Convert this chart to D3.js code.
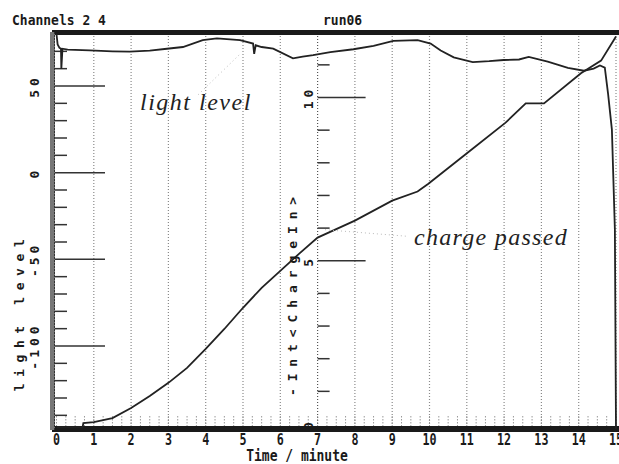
<!DOCTYPE html>
<html>
<head>
<meta charset="utf-8">
<script src="https://cdn.jsdelivr.net/npm/d3@7"></script>
<style>
body { margin: 0; background: #fff; }
.mono { font-family: "DejaVu Sans Mono", "Liberation Mono", monospace; font-weight: bold; fill: #1a1a1a; }
.note { font-family: "Liberation Serif", "Times New Roman", serif; font-style: italic; fill: #222; }
</style>
</head>
<body>
<svg width="619" height="464"></svg>
<script>
var svg = d3.select("svg"),
    width = +svg.attr("width"),
    height = +svg.attr("height");

// time axis (minutes)
var timeTicks = [0, 1, 2, 3, 4, 5, 6, 7, 8, 9, 10, 11, 12, 13, 14, 15];

// light level trace
var lightT = [0, 0.03, 0.08, 0.12, 0.13, 0.16, 0.3, 0.89, 1.5, 1.96, 2.5, 2.96, 3.39, 3.92, 4.3, 4.92, 5.27, 5.3, 5.34, 5.5, 5.81, 6.34, 6.6, 6.88, 7.34, 7.96, 8.5, 9.03, 9.68, 10.03, 10.3, 10.65, 11.16, 11.6, 11.99, 12.4, 12.66, 13.17, 13.71, 14.14, 14.4, 14.57, 14.7, 14.79, 14.89, 14.97, 15.0];
var lightV = [80, 74, 72, 71.5, 60, 71.5, 71, 70.5, 70, 69.8, 70.4, 71.5, 72.5, 76.5, 77.5, 76.5, 74.5, 68.5, 73.5, 72.5, 71.5, 66, 67, 67.8, 69.5, 71.2, 73.2, 76, 76.5, 74.5, 70.5, 66.5, 63.8, 64.3, 65, 65.3, 66.8, 64, 60.5, 58.8, 60, 61.8, 60.6, 45, 24.8, -32.9, -148];

// integrated charge trace
var chargeT = [0, 0.7, 0.72, 1, 1.5, 2, 2.5, 3, 3.5, 4, 4.5, 5, 5.5, 6, 6.5, 7, 8, 9, 9.68, 9.97, 11.02, 12.04, 12.58, 13.07, 14.06, 14.6, 15];
var chargeV = [-0.1, -0.1, 0.03, 0.06, 0.18, 0.49, 0.86, 1.26, 1.72, 2.30, 2.91, 3.56, 4.17, 4.69, 5.21, 5.71, 6.23, 6.84, 7.12, 7.36, 8.31, 9.23, 9.82, 9.82, 10.74, 11.13, 11.87];

var lightMajor = [50, 0, -50, -100];
var lightMinor = [70, 60, 40, 30, 20, 10, -10, -20, -30, -40, -60, -70, -80, -90, -110, -120, -130, -140];
var chargeMajor = [10, 5];
var chargeMinor = [11, 9, 8, 7, 6, 4, 3, 2, 1];
var chargeLabels = [10, 5, 0];

var x = d3.scaleLinear().domain([0, 15]).range([56.5, 616]);
var yL = d3.scaleLinear().domain([-100, 50]).range([346, 86]);
var yC = d3.scaleLinear().domain([0, 10]).range([424, 97.5]);

var plotTop = 33, plotBottom = 429, axisT = 7;

// vertical dotted grid
svg.append("g")
    .selectAll("line")
    .data(timeTicks.slice(1))
    .enter().append("line")
    .attr("x1", function(d) { return x(d); })
    .attr("x2", function(d) { return x(d); })
    .attr("y1", plotTop)
    .attr("y2", plotBottom)
    .attr("stroke", function(d) { return d == axisT ? "#555" : "#8a8a8a"; })
    .attr("stroke-width", 1.2)
    .attr("stroke-dasharray", "1,2");

// small time ticks along the bottom
svg.append("g")
    .selectAll("line")
    .data(d3.range(0, 15.01, 0.25))
    .enter().append("line")
    .attr("x1", function(d) { return x(d); })
    .attr("x2", function(d) { return x(d); })
    .attr("y1", 416)
    .attr("y2", 426)
    .attr("stroke", "#999")
    .attr("stroke-dasharray", "1.5,1.5");

// frame: thick top and bottom bars, stippled left axis
svg.append("rect").attr("x", 52).attr("y", 30).attr("width", width - 52).attr("height", 5).attr("fill", "#1a1a1a");
svg.append("rect").attr("x", 52).attr("y", 426).attr("width", width - 52).attr("height", 6).attr("fill", "#1a1a1a");
svg.append("rect").attr("x", 50).attr("y", 32).attr("width", 5).attr("height", 398).attr("fill", "#777");
svg.append("line").attr("x1", 54.5).attr("x2", 54.5).attr("y1", 32).attr("y2", 430)
    .attr("stroke", "#333").attr("stroke-width", 1).attr("stroke-dasharray", "2,1");

// left axis ticks
svg.append("g").selectAll("line").data(lightMinor).enter().append("line")
    .attr("x1", 55).attr("x2", 67)
    .attr("y1", function(d) { return yL(d); }).attr("y2", function(d) { return yL(d); })
    .attr("stroke", "#333").attr("stroke-width", 1.5);
svg.append("g").selectAll("line").data(lightMajor).enter().append("line")
    .attr("x1", 55).attr("x2", 105)
    .attr("y1", function(d) { return yL(d); }).attr("y2", function(d) { return yL(d); })
    .attr("stroke", "#333").attr("stroke-width", 1.5);

// charge axis ticks (drawn on the 7 minute line)
svg.append("g").selectAll("line").data(chargeMinor).enter().append("line")
    .attr("x1", x(axisT)).attr("x2", x(axisT) + 12)
    .attr("y1", function(d) { return yC(d); }).attr("y2", function(d) { return yC(d); })
    .attr("stroke", "#333").attr("stroke-width", 1.5);
svg.append("g").selectAll("line").data(chargeMajor).enter().append("line")
    .attr("x1", x(axisT)).attr("x2", x(axisT) + 48)
    .attr("y1", function(d) { return yC(d); }).attr("y2", function(d) { return yC(d); })
    .attr("stroke", "#333").attr("stroke-width", 1.5);

// traces
var lightLine = d3.line()
    .x(function(d, i) { return x(lightT[i]); })
    .y(function(d) { return Math.min(yL(d), plotBottom); });
svg.append("path")
    .datum(lightV)
    .attr("d", lightLine)
    .attr("fill", "none")
    .attr("stroke", "#222")
    .attr("stroke-width", 1.8);

var chargeLine = d3.line()
    .x(function(d, i) { return x(chargeT[i]); })
    .y(function(d) { return yC(d); });
svg.append("path")
    .datum(chargeV)
    .attr("d", chargeLine)
    .attr("fill", "none")
    .attr("stroke", "#222")
    .attr("stroke-width", 1.8);

// faint leader lines for the notes
svg.append("line")
    .attr("x1", x(3.8)).attr("y1", yL(45))
    .attr("x2", x(4.9)).attr("y2", yL(68))
    .attr("stroke", "#bbb").attr("stroke-dasharray", "1,3");
svg.append("line")
    .attr("x1", x(7.2)).attr("y1", yC(5.95))
    .attr("x2", x(9.4)).attr("y2", yC(5.75))
    .attr("stroke", "#bbb").attr("stroke-dasharray", "1,3");

// notes
svg.append("text").attr("class", "note")
    .attr("x", 140).attr("y", 110)
    .attr("font-size", 24).attr("letter-spacing", 1.5)
    .text("light level");
svg.append("text").attr("class", "note")
    .attr("x", 414).attr("y", 245)
    .attr("font-size", 24).attr("letter-spacing", 1.3)
    .text("charge passed");

// time tick labels
svg.append("g").selectAll("text").data(timeTicks).enter().append("text")
    .attr("class", "mono")
    .attr("font-size", 13)
    .attr("text-anchor", "middle")
    .attr("transform", function(d) { return "translate(" + x(d) + ",445) scale(0.9,1.2)"; })
    .text(function(d) { return d; });

svg.append("text").attr("class", "mono")
    .attr("font-size", 13)
    .attr("text-anchor", "middle")
    .attr("transform", "translate(297,461) scale(1,1.2)")
    .text("Time / minute");

// titles
svg.append("text").attr("class", "mono")
    .attr("font-size", 13)
    .attr("transform", "translate(12,25) scale(1,1.15)")
    .text("Channels 2 4");
svg.append("text").attr("class", "mono")
    .attr("font-size", 13)
    .attr("transform", "translate(323,25) scale(1,1.15)")
    .text("run06");

// rotated axis labels
svg.append("g").selectAll("text").data(lightMajor).enter().append("text")
    .attr("class", "mono")
    .attr("font-size", 13)
    .attr("letter-spacing", 4)
    .attr("text-anchor", "middle")
    .attr("transform", function(d) { return "translate(39," + yL(d) + ") rotate(-90)"; })
    .text(function(d) { return d; });

svg.append("text").attr("class", "mono")
    .attr("font-size", 13)
    .attr("letter-spacing", 6.6)
    .attr("text-anchor", "middle")
    .attr("transform", "translate(24,312) rotate(-90)")
    .text("light level");

svg.append("g").selectAll("text").data(chargeLabels).enter().append("text")
    .attr("class", "mono")
    .attr("font-size", 13)
    .attr("letter-spacing", 4)
    .attr("text-anchor", "middle")
    .attr("transform", function(d) { return "translate(313," + yC(d) + ") rotate(-90)"; })
    .text(function(d) { return d; });

svg.append("text").attr("class", "mono")
    .attr("font-size", 13)
    .attr("letter-spacing", 6.9)
    .attr("text-anchor", "middle")
    .attr("transform", "translate(297,293) rotate(-90)")
    .text("-Int<ChargeIn>");
</script>
</body>
</html>
